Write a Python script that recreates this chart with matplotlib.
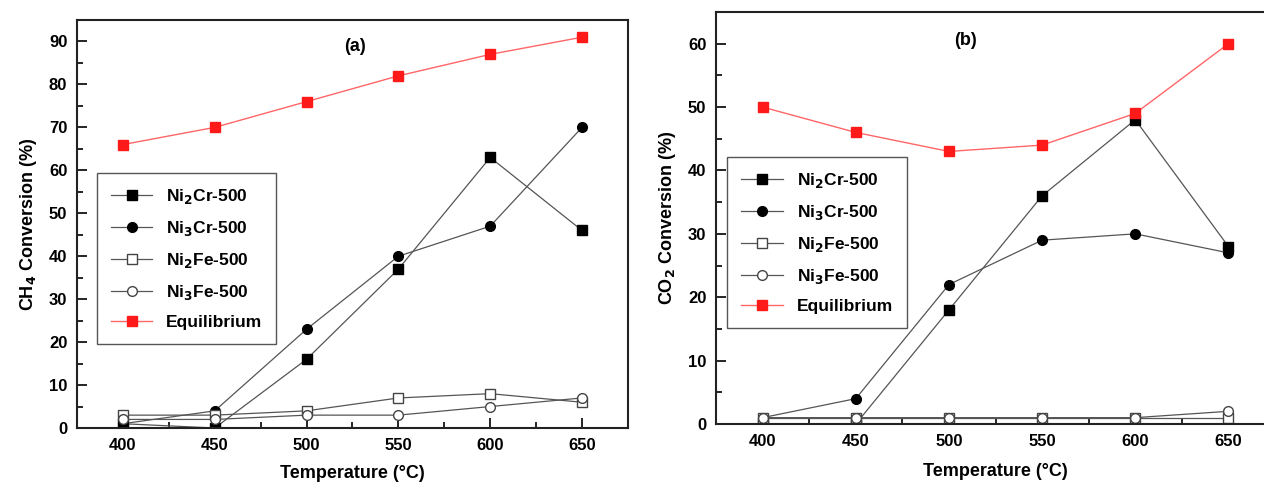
import matplotlib

matplotlib.use("Agg")
import matplotlib.pyplot as plt
from matplotlib.ticker import MultipleLocator

plt.rcParams["font.family"] = ["Liberation Sans", "DejaVu Sans"]
plt.rcParams["font.weight"] = "bold"

temps = [400, 450, 500, 550, 600, 650]

# panel (a): CH4 conversion (%)
ch4_ni2cr = [1, 0, 16, 37, 63, 46]
ch4_ni3cr = [1, 4, 23, 40, 47, 70]
ch4_ni2fe = [3, 3, 4, 7, 8, 6]
ch4_ni3fe = [2, 2, 3, 3, 5, 7]
ch4_equil = [66, 70, 76, 82, 87, 91]

# panel (b): CO2 conversion (%)
co2_ni2cr = [0, 0, 18, 36, 48, 28]
co2_ni3cr = [1, 4, 22, 29, 30, 27]
co2_ni2fe = [1, 1, 1, 1, 1, 1]
co2_ni3fe = [1, 1, 1, 1, 1, 2]
co2_equil = [50, 46, 43, 44, 49, 60]

labels = ["Ni$_2$Cr-500", "Ni$_3$Cr-500", "Ni$_2$Fe-500", "Ni$_3$Fe-500", "Equilibrium"]

fig = plt.figure(figsize=(12.64, 4.86), dpi=100)
ax_a = fig.add_axes([0.0609, 0.1193, 0.4359, 0.8395])
ax_b = fig.add_axes([0.5665, 0.1276, 0.4422, 0.8477])


def draw(ax, series, ylim, ylabel, tag, tag_xy, leg_anchor, xpad):
    styles = [
        dict(marker="s", mfc="black", mec="black"),
        dict(marker="o", mfc="black", mec="black"),
        dict(marker="s", mfc="white", mec="#444444"),
        dict(marker="o", mfc="white", mec="#444444"),
    ]
    for vals, st, lab in zip(series[:4], styles, labels[:4]):
        ax.plot(temps, vals, color="#555555", lw=0.9, ms=7, mew=1.0, label=lab, **st)
    ax.plot(temps, series[4], color="#ff6666", lw=1.0, marker="s", ms=6.5,
            mfc="#ff1a1a", mec="#ff1a1a", label=labels[4])

    ax.set_xlim(375, 675)
    ax.set_ylim(*ylim)
    ax.xaxis.set_major_locator(MultipleLocator(50))
    ax.xaxis.set_minor_locator(MultipleLocator(25))
    ax.yaxis.set_major_locator(MultipleLocator(10))
    ax.yaxis.set_minor_locator(MultipleLocator(5))
    ax.tick_params(which="both", direction="in", top=False, right=False, width=1.2)
    ax.tick_params(which="major", length=7, labelsize=12, pad=7)
    ax.tick_params(which="minor", length=4)
    for lab in ax.get_xticklabels() + ax.get_yticklabels():
        lab.set_fontweight("bold")
    for sp in ax.spines.values():
        sp.set_linewidth(1.5)
        sp.set_color("#222222")

    ax.set_xlabel("Temperature (°C)", fontsize=13, fontweight="bold", labelpad=xpad)
    ax.set_ylabel(ylabel, fontsize=13, fontweight="bold", labelpad=7)
    ax.text(*tag_xy, tag, transform=ax.transAxes, fontsize=13, fontweight="bold",
            ha="center", va="center")

    leg = ax.legend(loc="upper left", bbox_to_anchor=leg_anchor, borderaxespad=0,
                    fancybox=False, edgecolor="#555555", framealpha=1,
                    handlelength=2.4, labelspacing=0.75, borderpad=0.8,
                    prop={"weight": "bold", "size": 12.5})
    leg.get_frame().set_linewidth(1.0)


draw(ax_a, [ch4_ni2cr, ch4_ni3cr, ch4_ni2fe, ch4_ni3fe, ch4_equil],
     (0, 95), "CH$_4$ Conversion (%)", "(a)", (0.505, 0.935), (0.036, 0.625), 9)
draw(ax_b, [co2_ni2cr, co2_ni3cr, co2_ni2fe, co2_ni3fe, co2_equil],
     (0, 65), "CO$_2$ Conversion (%)", "(b)", (0.447, 0.932), (0.02, 0.648), 10)

fig.savefig("out.png", dpi=100)
